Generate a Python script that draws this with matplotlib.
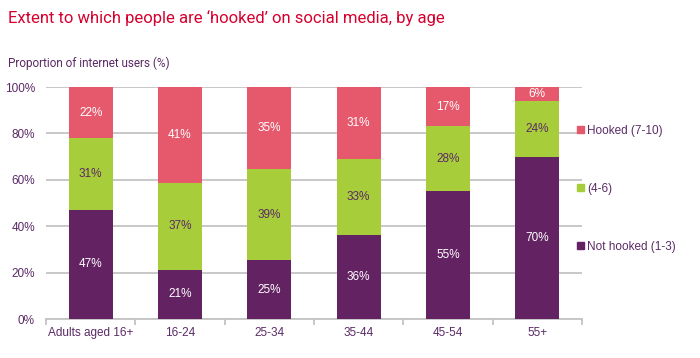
import numpy as np
import matplotlib
matplotlib.use('Agg')
import matplotlib.pyplot as plt
from matplotlib.patches import Patch

plt.rcParams['font.family'] = ['Liberation Sans', 'DejaVu Sans']

categories = ['Adults aged 16+', '16-24', '25-34', '35-44', '45-54', '55+']
not_hooked = [47, 21, 25, 36, 55, 70]
middle = [31, 37, 39, 33, 28, 24]
hooked = [22, 41, 35, 31, 17, 6]
series_names = ['Hooked (7-10)', '(4-6)', 'Not hooked (1-3)']

purple = '#632262'
green = '#a8cd3a'
pink = '#e6586b'
text_purple = '#5b2a66'

fig = plt.figure(figsize=(7, 3.58), dpi=100)
ax = fig.add_axes([46 / 700, 39 / 358, 536 / 700, 232 / 358])

x = np.arange(len(categories))
w = 0.49
nh = np.array(not_hooked, dtype=float)
md = np.array(middle, dtype=float)
hk = np.array(hooked, dtype=float)
# 100% stacked: scale each column to its total
tot = (nh + md + hk) / 100.0
nh_h, md_h, hk_h = nh / tot, md / tot, hk / tot

ax.bar(x, nh_h, w, color=purple, zorder=3)
ax.bar(x, md_h, w, bottom=nh_h, color=green, zorder=3)
ax.bar(x, hk_h, w, bottom=nh_h + md_h, color=pink, zorder=3)

for i in range(len(categories)):
    ax.text(x[i], nh_h[i] / 2, f'{not_hooked[i]}%', ha='center', va='center',
            color='white', fontsize=8.5, zorder=4)
    ax.text(x[i], nh_h[i] + md_h[i] / 2, f'{middle[i]}%', ha='center', va='center',
            color=text_purple, fontsize=8.5, zorder=4)
    ax.text(x[i], nh_h[i] + md_h[i] + hk_h[i] / 2, f'{hooked[i]}%', ha='center', va='center',
            color='white', fontsize=8.5, zorder=4)

ax.set_xlim(-0.5, len(categories) - 0.5)
ax.set_ylim(0, 100)
ax.set_yticks(range(0, 101, 20))
ax.set_yticklabels([f'{v}%' for v in range(0, 101, 20)])
ax.yaxis.grid(True, color='#c4c4c4', linewidth=1.3, zorder=0)
ax.set_axisbelow(True)

ax.set_xticks(x)
ax.set_xticklabels(categories)
ax.set_xticks(np.arange(len(categories) + 1) - 0.5, minor=True)
ax.tick_params(axis='x', which='major', length=0, pad=6, labelcolor=text_purple, labelsize=8.5)
ax.tick_params(axis='x', which='minor', length=4, color='#c4c4c4', width=1.3)
ax.tick_params(axis='y', length=0, pad=8, labelcolor=text_purple, labelsize=8.5)

for s in ['top', 'right', 'left']:
    ax.spines[s].set_visible(False)
ax.spines['bottom'].set_color('#c4c4c4')
ax.spines['bottom'].set_linewidth(1.3)

handles = [Patch(color=pink), Patch(color=green), Patch(color=purple)]
leg = fig.legend(handles, series_names, loc='upper left', bbox_to_anchor=(572 / 700, 1 - 120 / 358),
                 frameon=False, fontsize=8.5, handlelength=0.6, handleheight=0.6,
                 handletextpad=0.3, labelspacing=3.9, borderaxespad=0)
for t in leg.get_texts():
    t.set_color(text_purple)

fig.text(8 / 700, 1 - 18 / 358, 'Extent to which people are \u2018hooked\u2019 on social media, by age',
         color='#d6002e', fontsize=12, va='center', ha='left',
         family=['Roboto', 'DejaVu Sans'])
fig.text(8 / 700, 1 - 63 / 358, 'Proportion of internet users (%)',
         color=text_purple, fontsize=8.5, va='center', ha='left',
         family=['Roboto', 'DejaVu Sans'])

fig.savefig('out.png', dpi=100)
